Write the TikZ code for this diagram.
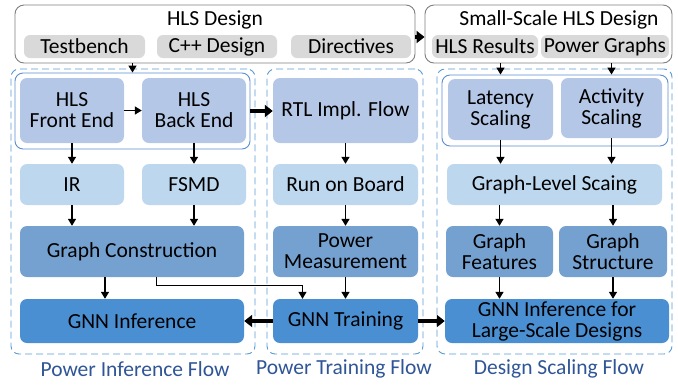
\documentclass[tikz,border=0pt]{standalone}
\usepackage{fontspec}
\setmainfont{Carlito}
\usepackage{xcolor}
\usetikzlibrary{arrows.meta}

\definecolor{lavblue}{HTML}{B4C7E7}
\definecolor{liteblue}{HTML}{BDD7EE}
\definecolor{midblue}{HTML}{75A1D0}
\definecolor{darkblue}{HTML}{4B8FD3}
\definecolor{dashblue}{HTML}{5B9BD5}
\definecolor{rimblue}{HTML}{5A8ED0}
\definecolor{labelblue}{HTML}{2F5597}
\definecolor{subgray}{HTML}{D9D9D9}
\definecolor{rimgray}{HTML}{7F7F7F}

\begin{document}
\begin{tikzpicture}[
    x=1pt, y=-1pt,
    font=\fontsize{21.5}{21}\selectfont,
    sz/.style 2 args={minimum width=#1pt, minimum height=#2pt},
    box/.style={rounded corners=7pt, inner sep=0pt, align=center},
    outer/.style={draw=rimgray, line width=0.9pt, rounded corners=9pt, inner sep=0pt},
    sub/.style={box, fill=subgray, rounded corners=6pt},
    flow/.style={draw=dashblue, line width=0.9pt, dash pattern=on 7pt off 4pt, rounded corners=8pt, inner sep=0pt},
    group/.style={draw=rimblue, line width=0.9pt, rounded corners=8pt, inner sep=0pt},
    flowname/.style={text=labelblue},
    thin/.style={line width=1.4pt, -{Triangle[length=7pt,width=8pt]}},
    thick/.style={line width=4pt, -{Triangle[length=8pt,width=12pt]}}
]
\useasboundingbox (0,0) rectangle (678,384);

\node [outer, sz={400}{58}] (hls) at (215,34) {};
\node (hlstitle) at (215,20) {HLS Design};
\node [sub, sz={121}{23}] (tb) at (84.5,46.5) {Testbench};
\node [sub, sz={120}{23}] (cpp) at (217,46.5) {C++ Design};
\node [sub, sz={120}{23}] (dir) at (351,46.5) {Directives};

\node [outer, sz={247}{58}] (small) at (548.5,34) {};
\node (smalltitle) at (559,20) {Small-Scale HLS Design};
\node [sub, sz={106}{23}] (res) at (485,46.5) {HLS Results};
\node [sub, sz={128}{23}] (pg) at (605,46.5) {Power Graphs};

\node [flow, sz={244}{285}] (infl) at (133,211.5) {};
\node [group, sz={235}{76}] (front) at (132.5,111) {};
\node [box, fill=lavblue, sz={104}{65}] (fe) at (72,110.5) {HLS\\Front End};
\node [box, fill=lavblue, sz={104}{65}] (be) at (194,110.5) {HLS\\Back End};
\node [box, fill=liteblue, sz={104}{41}] (ir) at (72,184.5) {IR};
\node [box, fill=liteblue, sz={104}{41}] (fsmd) at (194,184.5) {FSMD};
\node [box, fill=midblue, sz={224}{51}] (gc) at (132,251.5) {Graph Construction};
\node [box, fill=darkblue, sz={224}{44}] (gnni) at (132,321) {GNN Inference};

\node [flow, sz={156}{285}] (trfl) at (345,211.5) {};
\node [box, fill=lavblue, sz={145}{65}] (rtl) at (345.5,110.5) {RTL Impl. Flow};
\node [box, fill=liteblue, sz={145}{41}] (rob) at (345.5,184.5) {Run on Board};
\node [box, fill=midblue, sz={145}{51}] (pm) at (345.5,251.5) {Power\\Measurement};
\node [box, fill=darkblue, sz={145}{44}] (gnnt) at (345.5,321) {GNN Training};

\node [flow, sz={235}{285}] (scfl) at (554.5,211.5) {};
\node [group, sz={226}{71}] (scale) at (555,110.5) {};
\node [box, fill=lavblue, sz={105}{61}] (lat) at (500.5,109.5) {Latency\\Scaling};
\node [box, fill=lavblue, sz={101}{60}] (act) at (611.5,108) {Activity\\Scaling};
\node [box, fill=liteblue, sz={215}{41}] (gls) at (554.5,184.5) {Graph-Level Scaing};
\node [box, fill=midblue, sz={107}{51}] (gf) at (499.5,251.5) {Graph\\Features};
\node [box, fill=midblue, sz={108}{51}] (gs) at (613,251.5) {Graph\\Structure};
\node [box, fill=darkblue, sz={224}{44}] (gnnl) at (557,321) {GNN Inference for\\Large-Scale Designs};

\node [flowname] (infname) at (135,369) {Power Inference Flow};
\node [flowname] (trname) at (344,369) {Power Training Flow};
\node [flowname] (scname) at (559,369) {Design Scaling Flow};

\draw [thin] (front.north |- hls.south) -- (front.north);
\draw [thick] ([yshift=-3pt]hls.east) -- ([yshift=-3pt]small.west);
\draw [thin] (fe) -- (be);
\draw [thick] (front.east) -- (rtl.west |- front.east);
\draw [thin] (fe.south) -- (ir.north);
\draw [thin] (be.south) -- (fsmd.north);
\draw [thin] (ir.south) -- (ir.south |- gc.north);
\draw [thin] (fsmd.south) -- (fsmd.south |- gc.north);
\draw [thin] ([xshift=-27pt]gc.south) -- ([xshift=-27pt]gnni.north);
\draw [line width=1pt, -{Triangle[length=7pt,width=8pt]}] ([xshift=24pt]gc.south) -- ++(0,8) -| ([xshift=-43pt]gnnt.north);
\draw [thin] (rtl) -- (rob);
\draw [thin] (rob) -- (pm);
\draw [thin] (pm) -- (gnnt);
\draw [thick] (gnnt.west) -- (gnni.east);
\draw [thick] (gnnt.east) -- (gnnl.west);
\draw [thin] (lat.north |- small.south) -- (lat.north |- scale.north);
\draw [thin] (act.north |- small.south) -- (act.north |- scale.north);
\draw [thin] (lat.south) -- (lat.south |- gls.north);
\draw [thin] (act.south) -- (act.south |- gls.north);
\draw [thin] (gf.north |- gls.south) -- (gf.north);
\draw [thin] (gs.north |- gls.south) -- (gs.north);
\draw [thin] (gf.south) -- (gf.south |- gnnl.north);
\draw [thin] (gs.south) -- (gs.south |- gnnl.north);
\end{tikzpicture}
\end{document}
